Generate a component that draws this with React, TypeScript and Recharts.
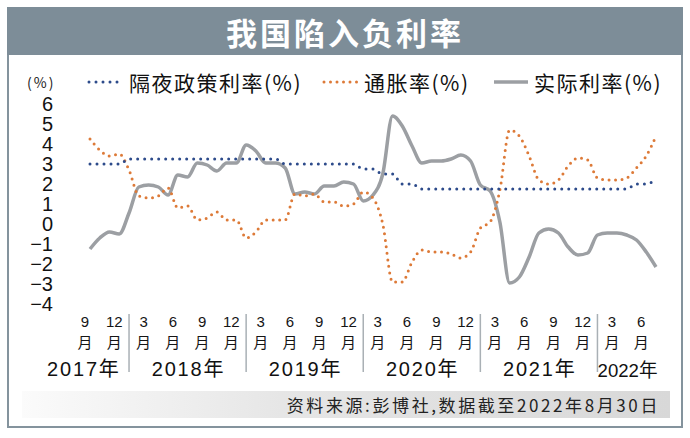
import React from 'react'
import { LineChart, Line, XAxis, YAxis } from 'recharts'

// monthly, Sep 2017 - Jul 2022
const months = [
  '2017-09', '2017-10', '2017-11', '2017-12',
  '2018-01', '2018-02', '2018-03', '2018-04', '2018-05', '2018-06', '2018-07', '2018-08', '2018-09', '2018-10', '2018-11', '2018-12',
  '2019-01', '2019-02', '2019-03', '2019-04', '2019-05', '2019-06', '2019-07', '2019-08', '2019-09', '2019-10', '2019-11', '2019-12',
  '2020-01', '2020-02', '2020-03', '2020-04', '2020-05', '2020-06', '2020-07', '2020-08', '2020-09', '2020-10', '2020-11', '2020-12',
  '2021-01', '2021-02', '2021-03', '2021-04', '2021-05', '2021-06', '2021-07', '2021-08', '2021-09', '2021-10', '2021-11', '2021-12',
  '2022-01', '2022-02', '2022-03', '2022-04', '2022-05', '2022-06', '2022-07',
]

const policyRate = [
  3, 3, 3, 3,
  3.25, 3.25, 3.25, 3.25, 3.25, 3.25, 3.25, 3.25, 3.25, 3.25, 3.25, 3.25,
  3.25, 3.25, 3.25, 3.25, 3, 3, 3, 3, 3, 3, 3, 3,
  2.75, 2.75, 2.5, 2.5, 2, 2, 1.75, 1.75, 1.75, 1.75, 1.75, 1.75,
  1.75, 1.75, 1.75, 1.75, 1.75, 1.75, 1.75, 1.75, 1.75, 1.75, 1.75, 1.75,
  1.75, 1.75, 1.75, 1.75, 2, 2, 2.25,
]

const inflation = [
  4.25, 3.7, 3.4, 3.5,
  2.7, 1.4, 1.3, 1.4, 1.8, 0.8, 0.9, 0.2, 0.3, 0.6, 0.2, 0.2,
  -0.7, -0.4, 0.2, 0.2, 0.2, 1.5, 1.4, 1.5, 1.1, 1.1, 0.9, 1.0,
  1.6, 1.3, 0.0, -2.9, -2.9, -1.9, -1.3, -1.4, -1.4, -1.5, -1.7, -1.4,
  -0.2, 0.1, 1.7, 4.7, 4.4, 3.4, 2.2, 2.0, 2.2, 2.9, 3.3, 3.2,
  2.3, 2.2, 2.2, 2.3, 2.8, 3.4, 4.4,
]

const realRate = [
  -1.25, -0.7, -0.4, -0.5,
  0.55, 1.85, 1.95, 1.85, 1.45, 2.45, 2.35, 3.05, 2.95, 2.65, 3.05, 3.05,
  3.95, 3.65, 3.05, 3.05, 2.8, 1.5, 1.6, 1.5, 1.9, 1.9, 2.1, 2.0,
  1.15, 1.45, 2.5, 5.4, 4.9, 3.9, 3.05, 3.15, 3.15, 3.25, 3.45, 3.15,
  1.95, 1.65, 0.1, -2.95, -2.65, -1.65, -0.45, -0.25, -0.45, -1.15, -1.55, -1.45,
  -0.55, -0.45, -0.45, -0.55, -0.8, -1.4, -2.15,
]

const yTicks = [-4, -3, -2, -1, 0, 1, 2, 3, 4, 5, 6]

const monthTicks = [
  '2017-09', '2017-12',
  '2018-03', '2018-06', '2018-09', '2018-12',
  '2019-03', '2019-06', '2019-09', '2019-12',
  '2020-03', '2020-06', '2020-09', '2020-12',
  '2021-03', '2021-06', '2021-09', '2021-12',
  '2022-03', '2022-06',
]

const years = ['2017', '2018', '2019', '2020', '2021', '2022']

const data = months.map((m, i) => ({
  i,
  month: m,
  policy: policyRate[i],
  cpi: inflation[i],
  real: realRate[i],
}))

const tickIdx = monthTicks.map((m) => months.indexOf(m))
const yearIdx = years.map((y) => {
  const ids = tickIdx.filter((k) => months[k].startsWith(y))
  return (ids[0] + ids[ids.length - 1]) / 2
})
const sepIdx = months.map((m, i) => (m.endsWith('-01') ? i : -1)).filter((i) => i > 0)

const BLUE = '#2d4b8b'
const ORANGE = '#dd7a38'
const GRAY = '#9c9fa3'
const FRAME = '#84939d'
const FONT = '"Liberation Sans", "Noto Sans CJK SC", sans-serif'
const CJK = '"Noto Sans CJK SC", sans-serif'

const legendItems = [
  { name: '隔夜政策利率(%)', color: BLUE, dash: '0 7', width: 3, left: 87 },
  { name: '通胀率(%)', color: ORANGE, dash: '0 6.5', width: 3, left: 322 },
  { name: '实际利率(%)', color: GRAY, dash: undefined, width: 3.5, left: 492 },
]

function MonthTick(props: any) {
  const { x, y, payload } = props
  const m = parseInt(months[payload.value].slice(5), 10)
  return (
    <g>
      <text x={x - 5} y={y + 17} textAnchor="middle" dominantBaseline="central"
        fontSize={15} fontFamily={FONT} fill="#151515">{m}</text>
      <text x={x - 5} y={y + 37.3} textAnchor="middle" dominantBaseline="central"
        fontSize={15} fontFamily={CJK} fill="#151515">月</text>
    </g>
  )
}

function YearTick(props: any) {
  const { x, y, payload } = props
  const k = yearIdx.indexOf(payload.value)
  const first = k === 0
  const last = k === years.length - 1
  return (
    <text
      x={first ? x + 16 : x - 4}
      y={y + (last ? 64.5 : 63)}
      textAnchor={first ? 'end' : 'middle'}
      dominantBaseline="central"
      fontSize={last ? 19 : 20}
      letterSpacing={last ? 0 : 1.8}
      textLength={last ? 60 : undefined}
      lengthAdjust={last ? 'spacingAndGlyphs' : undefined}
      fontFamily={FONT}
      fill="#111"
    >
      {years[k]}年
    </text>
  )
}

function SepTick(props: any) {
  const { x, y } = props
  return <line x1={x} x2={x} y1={y + 9} y2={y + 67} stroke="#a9b0b5" strokeWidth={1.5} />
}

const fmtY = (v: number) => (v < 0 ? `\u2212${-v}` : `${v}`)

const axisCommon = {
  dataKey: 'i',
  type: 'number' as const,
  domain: [0, months.length - 1],
  interval: 0 as const,
  height: 1,
  axisLine: false,
  tickLine: false,
  tickSize: 0,
  tickMargin: 0,
}

export default function App() {
  return (
    <div style={{ position: 'absolute', left: 0, top: 0, width: 690, height: 438, background: '#fff' }}>
      <div
        style={{
          position: 'absolute', left: 7, top: 7, width: 676, height: 48, background: '#7d8d98',
          color: '#fff', fontFamily: CJK, fontWeight: 700, fontSize: 31, letterSpacing: 3,
          display: 'flex', alignItems: 'center', justifyContent: 'center',
        }}
      >
        我国陷入负利率
      </div>
      <div
        style={{
          position: 'absolute', left: 7, top: 55, width: 676, height: 373, boxSizing: 'border-box',
          border: `2.5px solid ${FRAME}`, borderTop: 'none',
        }}
      />
      <div
        style={{
          position: 'absolute', left: 22, top: 391, width: 648, height: 27,
          background: 'linear-gradient(to right, #fbfbfb, #e6e6e6 40%, #d8d8d8)',
          display: 'flex', alignItems: 'center', justifyContent: 'flex-end',
          fontFamily: CJK, fontSize: 17, color: '#222', letterSpacing: 2.6, paddingRight: 10, boxSizing: 'border-box',
          whiteSpace: 'nowrap',
        }}
      >
        资料来源:彭博社,数据截至2022年8月30日
      </div>
      <div style={{ position: 'absolute', left: 27, top: 70, height: 24, display: 'flex', alignItems: 'center', fontFamily: CJK, fontSize: 14, letterSpacing: 2, color: '#222', whiteSpace: 'nowrap' }}>
        (%)
      </div>
      {legendItems.map((it) => (
        <div key={it.name} style={{ position: 'absolute', left: it.left, top: 70, height: 24, display: 'flex', alignItems: 'center', whiteSpace: 'nowrap' }}>
          <svg width={38} height={10} style={{ flexShrink: 0 }}>
            <line x1={2} x2={36} y1={5} y2={5} stroke={it.color} strokeWidth={it.width}
              strokeDasharray={it.dash} strokeLinecap={it.dash ? 'round' : 'butt'} />
          </svg>
          <span style={{ marginLeft: 4, fontFamily: CJK, fontSize: 21, letterSpacing: 1.5, color: '#111' }}>{it.name}</span>
        </div>
      ))}
      <div style={{ position: 'absolute', left: 0, top: 0 }}>
        <LineChart width={690} height={438} data={data} margin={{ top: 104, right: 34, bottom: 131, left: 0 }}>
          <YAxis
            type="number"
            domain={[-4, 6]}
            ticks={yTicks}
            interval={0}
            width={90}
            axisLine={false}
            tickLine={false}
            tickSize={0}
            tickMargin={37}
            tickFormatter={fmtY}
            tick={{ fontSize: 20, fill: '#111', fontFamily: FONT }}
          />
          <XAxis {...axisCommon} ticks={tickIdx} tick={<MonthTick />} />
          <XAxis {...axisCommon} xAxisId="yr" ticks={yearIdx} tick={<YearTick />} />
          <XAxis {...axisCommon} xAxisId="sep" ticks={sepIdx} tick={<SepTick />} />
          <Line type="monotone" dataKey="real" name="实际利率(%)" stroke={GRAY} strokeWidth={3.5}
            dot={false} activeDot={false} isAnimationActive={false} />
          <Line type="monotone" dataKey="cpi" name="通胀率(%)" stroke={ORANGE} strokeWidth={3}
            strokeDasharray="0 6.5" strokeLinecap="round" dot={false} activeDot={false} isAnimationActive={false} />
          <Line type="monotone" dataKey="policy" name="隔夜政策利率(%)" stroke={BLUE} strokeWidth={3}
            strokeDasharray="0 7" strokeLinecap="round" dot={false} activeDot={false} isAnimationActive={false} />
        </LineChart>
      </div>
    </div>
  )
}
